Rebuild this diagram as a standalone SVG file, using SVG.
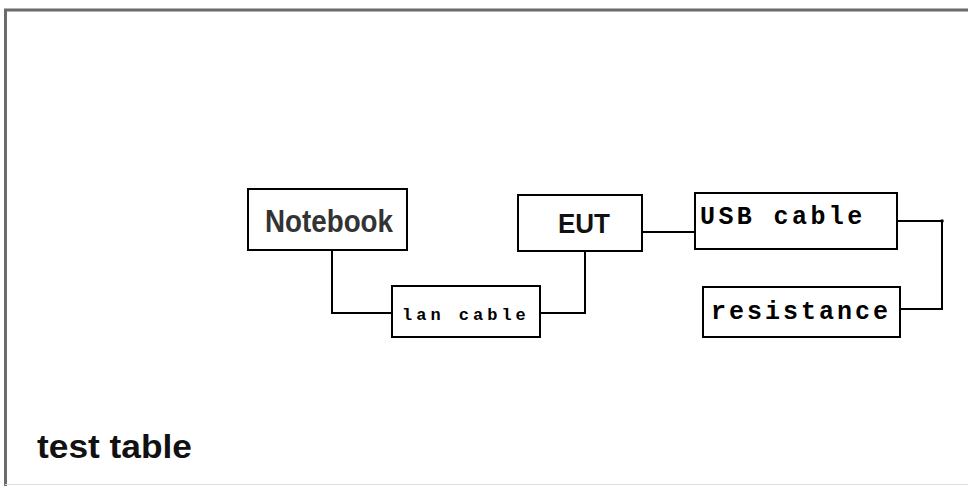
<svg xmlns="http://www.w3.org/2000/svg" width="968" height="486" viewBox="0 0 968 486">
<style>
.box{fill:#fff;stroke:#000;stroke-width:2}
.wire{fill:none;stroke:#000;stroke-width:2}
.sans{font-family:"Liberation Sans",Arial,sans-serif;font-weight:bold}
.mono{font-family:"Liberation Mono","DejaVu Sans Mono",monospace;font-weight:bold}
</style>
<rect width="968" height="486" fill="#fff"/>
<g id="frame">
<path d="M5.5 486 V10 H968" fill="none" stroke="#6b6b6b" stroke-width="3"/>
<line x1="5" y1="484.5" x2="968" y2="484.5" stroke="#ddd" stroke-width="1"/>
</g>
<g id="connectors">
<path class="wire" d="M332 251 V313 H392"/>
<path class="wire" d="M585 251 V313 H540"/>
<path class="wire" d="M642 232 H695"/>
<path class="wire" d="M897 221 H942 V309 H900"/>
<circle cx="942" cy="221" r="1.8" fill="#000"/>
</g>
<g id="notebook">
<rect class="box" x="248" y="189" width="159" height="61"/>
<text class="sans" x="265" y="232" font-size="31" fill="#333" textLength="128" lengthAdjust="spacingAndGlyphs">Notebook</text>
</g>
<g id="eut">
<rect class="box" x="518" y="195" width="124" height="56"/>
<text class="sans" x="558" y="233" font-size="28" fill="#111" textLength="52" lengthAdjust="spacingAndGlyphs">EUT</text>
</g>
<g id="lan">
<rect class="box" x="392" y="286" width="148" height="51"/>
<text class="mono" x="402" y="320" font-size="17" letter-spacing="4">lan cable</text>
</g>
<g id="usb">
<rect class="box" x="695" y="193" width="202" height="56"/>
<text class="mono" x="700" y="224" font-size="25" letter-spacing="3.4">USB cable</text>
</g>
<g id="resistance">
<rect class="box" x="703" y="287" width="197" height="50"/>
<text class="mono" x="711" y="319" font-size="25" letter-spacing="3">resistance</text>
</g>
<g id="label">
<text class="sans" x="37" y="458" font-size="34" fill="#111" textLength="155" lengthAdjust="spacingAndGlyphs">test table</text>
</g>
</svg>
